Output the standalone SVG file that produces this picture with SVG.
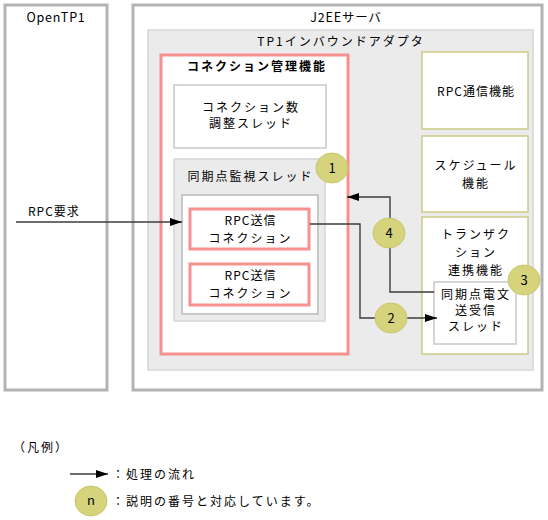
<svg xmlns="http://www.w3.org/2000/svg" width="548" height="520" viewBox="0 0 548 520">
<defs>
<marker id="arr" markerUnits="userSpaceOnUse" markerWidth="13" markerHeight="9" refX="12" refY="4" orient="auto">
<path d="M0,0 L12,4 L0,8 z" fill="#000"/>
</marker>
<style>
text{font-family:"Noto Sans CJK JP","Noto Sans",sans-serif;font-size:12px;letter-spacing:2px;fill:#000}
.c{text-anchor:middle}
.lat{letter-spacing:1px}
.outer{fill:#fff;stroke:#b3b3b3;stroke-width:3}
.adapter{fill:#ebebeb;stroke:#d6d6d6;stroke-width:1.5}
.pink{fill:#fff;stroke:#f59290;stroke-width:3}
.white{fill:#fff;stroke:#c8c8c8;stroke-width:1.5}
.grayfill{fill:#ebebeb;stroke:#d6d6d6;stroke-width:1.5}
.olive{fill:#fff;stroke:#cccc88;stroke-width:1.5}
.num{fill:#d5d37c;stroke:#c9c76a;stroke-width:1}
.line{fill:none;stroke:#3c3c3c;stroke-width:1.4}
.n{letter-spacing:0;font-size:13px}
</style>
</defs>
<g id="opentp1">
<rect class="outer" x="5" y="5" width="102" height="385"/>
<text class="c" x="56" y="22" style="letter-spacing:0.8px;font-size:12.5px">OpenTP1</text>
</g>
<g id="j2ee">
<rect class="outer" x="133" y="5" width="409" height="385"/>
<text class="c" x="346" y="22" style="letter-spacing:0.8px;font-size:12.5px">J2EEサーバ</text>
</g>
<g id="adapter">
<rect class="adapter" x="148" y="30" width="385" height="340"/>
<text class="c" x="341" y="45.5">TP1インバウンドアダプタ</text>
</g>
<g id="connmgr">
<rect class="pink" x="161" y="55" width="187" height="299"/>
<text class="c" x="257" y="70.5" font-weight="bold">コネクション管理機能</text>
</g>
<g id="conncount">
<rect class="white" x="174" y="85" width="152" height="63"/>
<text class="c" x="251" y="112">コネクション数</text>
<text class="c" x="251" y="128">調整スレッド</text>
</g>
<g id="syncmon">
<rect class="grayfill" x="174" y="159" width="151" height="162"/>
<text class="c" x="250.5" y="180.5">同期点監視スレッド</text>
<rect fill="#fff" stroke="#c8c8c8" stroke-width="2" x="182" y="195" width="136" height="119"/>
</g>
<g id="rpcconn1">
<rect class="pink" x="190" y="209" width="119" height="40"/>
<text class="c lat" x="250.5" y="224.5">RPC送信</text>
<text class="c" x="250.5" y="242.5">コネクション</text>
</g>
<g id="rpcconn2">
<rect class="pink" x="190" y="264" width="119" height="41"/>
<text class="c lat" x="250.5" y="280">RPC送信</text>
<text class="c" x="250.5" y="297.5">コネクション</text>
</g>
<g id="rpccomm">
<rect class="olive" x="422" y="52" width="106" height="77"/>
<text class="c lat" x="476" y="95.5">RPC通信機能</text>
</g>
<g id="schedule">
<rect class="olive" x="422" y="136" width="106" height="76"/>
<text class="c" x="476" y="170">スケジュール</text>
<text class="c" x="476" y="187.5">機能</text>
</g>
<g id="txlink">
<rect class="olive" x="422" y="217" width="106" height="137"/>
<text class="c" x="476" y="239">トランザク</text>
<text class="c" x="476" y="257">ション</text>
<text class="c" x="476" y="274.5">連携機能</text>
</g>
<g id="syncmsg">
<rect class="white" x="434" y="282" width="82" height="62"/>
<text class="c" x="476" y="299">同期点電文</text>
<text class="c" x="476" y="315">送受信</text>
<text class="c" x="476" y="331">スレッド</text>
</g>
<g id="connectors">
<path class="line" d="M16,222 H182" marker-end="url(#arr)"/>
<path class="line" d="M310,224 H360 V318 H437" marker-end="url(#arr)"/>
<path class="line" d="M434,292 H390 V197 H347" marker-end="url(#arr)"/>
<text class="lat" x="28" y="215.5">RPC要求</text>
</g>
<g id="n1">
<ellipse class="num" cx="332" cy="168" rx="16" ry="15"/>
<text class="c n" x="332" y="172.5">1</text>
</g>
<g id="n2">
<ellipse class="num" cx="391" cy="318" rx="16" ry="15"/>
<text class="c n" x="391" y="322.5">2</text>
</g>
<g id="n3">
<ellipse class="num" cx="524" cy="280" rx="16" ry="15"/>
<text class="c n" x="524" y="284.5">3</text>
</g>
<g id="n4">
<ellipse class="num" cx="389" cy="233" rx="16" ry="15"/>
<text class="c n" x="389" y="237.5">4</text>
</g>
<g id="legend">
<text x="13" y="452">（凡例）</text>
<path class="line" d="M70,474 H108" marker-end="url(#arr)"/>
<text x="112" y="478.5">：処理の流れ</text>
<ellipse class="num" cx="91" cy="501" rx="16" ry="15"/>
<text class="c n" x="91" y="505">n</text>
<text x="112" y="505.5">：説明の番号と対応しています。</text>
</g>
</svg>
